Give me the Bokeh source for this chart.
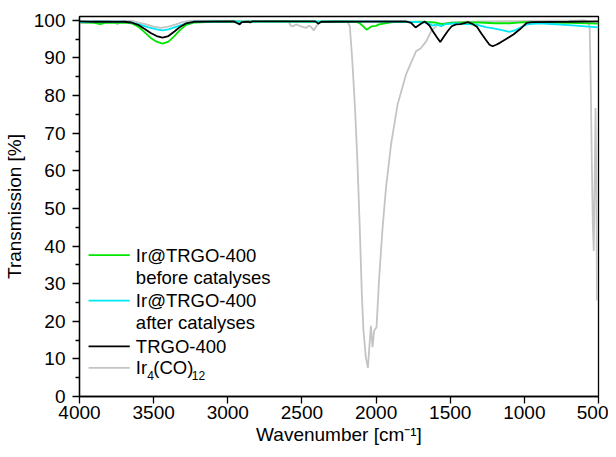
from bokeh.plotting import figure
from bokeh.models import Range1d, FixedTicker, Label, Arrow
from bokeh.embed import file_html
from bokeh.resources import INLINE

# ---------------- data ----------------
x_ticks = [4000, 3500, 3000, 2500, 2000, 1500, 1000, 500]
y_ticks = [0, 10, 20, 30, 40, 50, 60, 70, 80, 90, 100]
y_minor = [5, 15, 25, 35, 45, 55, 65, 75, 85, 95]

green_wn = [4000, 3950, 3900, 3860, 3830, 3700, 3650, 3600, 3560, 3520, 3480, 3440, 3400, 3360,
            3320, 3280, 3230, 3100, 2900, 2600, 2400, 2140, 2110, 2085, 2065, 2050, 2030, 2000,
            1980, 1940, 1890, 1700, 1600, 1550, 1500, 1400, 1300, 1200, 1100, 1000, 900, 700, 500]
green_t = [99.5, 99.4, 99.3, 99.0, 99.3, 99.4, 99.2, 98.2, 96.8, 95.3, 94.3, 93.8, 94.3, 95.8,
           97.5, 98.8, 99.4, 99.6, 99.6, 99.7, 99.6, 99.6, 99.2, 98.3, 97.5, 97.8, 98.4, 98.5,
           98.9, 99.2, 99.5, 99.6, 99.4, 99.0, 99.3, 99.4, 99.4, 99.2, 99.2, 99.5, 99.4, 99.3, 99.1]

cyan_wn = [4000, 3700, 3650, 3600, 3540, 3480, 3440, 3400, 3340, 3280, 3230, 2200, 1800, 1700,
           1650, 1620, 1590, 1560, 1530, 1450, 1400, 1330, 1260, 1200, 1150, 1100, 1060, 1020,
           984, 900, 700, 500]
cyan_t = [99.6, 99.6, 99.4, 98.9, 98.2, 97.6, 97.3, 97.6, 98.4, 99.2, 99.6, 99.7, 99.6, 99.5,
          99.3, 98.6, 98.9, 98.4, 99.0, 99.2, 99.0, 98.9, 98.2, 97.8, 97.4, 96.9, 97.4, 98.2,
          98.9, 99.2, 98.7, 98.1]

black_wn = [4000, 3900, 3700, 3650, 3600, 3560, 3520, 3480, 3440, 3400, 3360, 3320, 3280, 3230,
            2960, 2935, 2920, 2905, 2860, 2850, 2835, 2410, 2390, 2370, 1800, 1764, 1734, 1700,
            1673, 1640, 1617, 1590, 1567, 1540, 1515, 1490, 1460, 1430, 1380, 1350, 1320, 1290,
            1260, 1235, 1214, 1190, 1165, 1120, 1074, 1030, 984, 950, 700, 500]
black_t = [99.7, 99.6, 99.6, 99.4, 98.7, 97.7, 96.6, 95.8, 95.4, 95.8, 97.0, 98.3, 99.2, 99.6,
           99.7, 99.2, 98.9, 99.5, 99.6, 99.4, 99.7, 99.7, 99.1, 99.6, 99.7, 99.3, 98.1, 99.0,
           99.7, 98.6, 97.1, 95.5, 94.2, 95.8, 97.2, 98.4, 98.9, 99.0, 99.5, 99.0, 98.3, 96.5,
           94.8, 93.5, 93.1, 93.5, 94.0, 95.1, 96.2, 97.6, 99.3, 99.5, 99.6, 99.7]

gray_wn = [4000, 3950, 3900, 3800, 3760, 3745, 3730, 3700, 3640, 3600, 3550, 3500, 3450, 3400,
           3350, 3300, 3250, 2600, 2589, 2575, 2560, 2540, 2520, 2490, 2470, 2455, 2440, 2420,
           2400, 2380, 2250, 2194, 2177, 2160, 2141, 2126, 2110, 2096, 2085, 2069, 2055, 2047,
           2035, 2024, 2013, 1997, 1979, 1956, 1933, 1899, 1855, 1798, 1730, 1700, 1662, 1628,
           1583, 1484, 1300, 1000, 800, 650, 600, 575, 560, 553, 545, 538, 532, 525, 520, 515, 510]
gray_t = [99.2, 99.4, 99.8, 99.7, 99.5, 98.9, 99.4, 99.8, 99.8, 99.4, 98.9, 98.3, 98.0, 98.3,
          98.9, 99.6, 99.9, 99.8, 99.7, 98.5, 98.4, 98.9, 98.6, 98.2, 98.0, 98.5, 98.3, 97.3,
          98.6, 99.5, 99.8, 99.7, 98.4, 89.1, 75.9, 62.6, 44.9, 27.2, 17.5, 10.4, 7.6, 12.2,
          18.8, 13.1, 17.5, 18.4, 31.6, 44.9, 55.5, 67.0, 77.6, 85.6, 91.8, 92.5, 94.4, 97.1,
          98.9, 99.5, 99.7, 99.8, 99.9, 99.9, 100.0, 99.8, 98.5, 85.0, 62.0, 45.0, 38.7, 60.0,
          76.7, 60.0, 25.5]

# ---------------- figure ----------------
FONT = "Liberation Sans"
p = figure(width=608, height=449, output_backend="svg", toolbar_location=None,
           x_range=Range1d(4000, 500), y_range=Range1d(0, 101),
           min_border_left=78, min_border_right=10, min_border_top=16, min_border_bottom=53)
p.xgrid.visible = False
p.ygrid.visible = False
p.background_fill_color = "white"
p.border_fill_color = "white"
p.outline_line_color = "black"
p.outline_line_width = 1.3

p.xaxis.ticker = FixedTicker(ticks=x_ticks, minor_ticks=[])
p.yaxis.ticker = FixedTicker(ticks=y_ticks, minor_ticks=y_minor)
for ax in (p.xaxis[0], p.yaxis[0]):
    ax.axis_line_color = "black"
    ax.axis_line_width = 1.3
    ax.major_tick_line_color = "black"
    ax.major_tick_line_width = 1.3
    ax.minor_tick_line_color = "black"
    ax.minor_tick_line_width = 1.3
    ax.major_tick_out = 7
    ax.major_tick_in = 0
    ax.minor_tick_out = 4
    ax.minor_tick_in = 0
    ax.major_label_text_font = FONT
    ax.major_label_text_font_size = "19px"
    ax.major_label_text_color = "black"
    ax.axis_label_text_font = FONT
    ax.axis_label_text_font_size = "19px"
    ax.axis_label_text_font_style = "normal"
    ax.axis_label_text_color = "black"

p.xaxis.axis_label = "Wavenumber [cm\u207b\u00b9]"
p.yaxis.axis_label = "Transmission [%]"
p.xaxis.major_label_standoff = 2
p.yaxis.major_label_standoff = 7
p.xaxis.axis_label_standoff = 2
p.yaxis.axis_label_standoff = 6

GREEN = "#00e600"
CYAN = "#00e8f5"
BLACK = "#000000"
GRAY = "#c4c4c4"
LW = 1.8

p.line(gray_wn, gray_t, line_color=GRAY, line_width=LW)
p.line(green_wn, green_t, line_color=GREEN, line_width=LW)
p.line(cyan_wn, cyan_t, line_color=CYAN, line_width=LW)
p.line(black_wn, black_t, line_color=BLACK, line_width=LW)

# ---------------- legend (drawn manually) ----------------
LEG_X0, LEG_X1, LEG_TX = 3939, 3661, 3620
rows = [  # (sample colour or None, text, row centre y)
    (GREEN, "Ir@TRGO-400", 37.6),
    (None, "before catalyses", 31.6),
    (CYAN, "Ir@TRGO-400", 25.5),
    (None, "after catalyses", 19.6),
    (BLACK, "TRGO-400", 13.3),
]
for col, txt, yc in rows:
    p.add_layout(Label(x=LEG_TX, y=yc, text=txt, text_font=FONT, text_font_size="18.5px",
                       text_baseline="middle", text_align="left", text_color="black"))
    if col is not None:
        p.add_layout(Arrow(x_start=LEG_X0, y_start=yc, x_end=LEG_X1, y_end=yc,
                           end=None, line_color=col, line_width=LW))

yc = 7.6
p.add_layout(Arrow(x_start=LEG_X0, y_start=yc, x_end=LEG_X1, y_end=yc,
                   end=None, line_color=GRAY, line_width=LW))
for txt, dx, dy, fs in [("Ir", 0, 0, "18.5px"), ("4", 11.5, -8, "12px"),
                        ("(CO)", 17.5, 0, "18.5px"), ("12", 56, -8, "12px")]:
    p.add_layout(Label(x=LEG_TX, y=yc, x_offset=dx, y_offset=dy, text=txt, text_font=FONT,
                       text_font_size=fs, text_baseline="middle", text_align="left",
                       text_color="black"))

open("out.html", "w").write(file_html(p, INLINE))
